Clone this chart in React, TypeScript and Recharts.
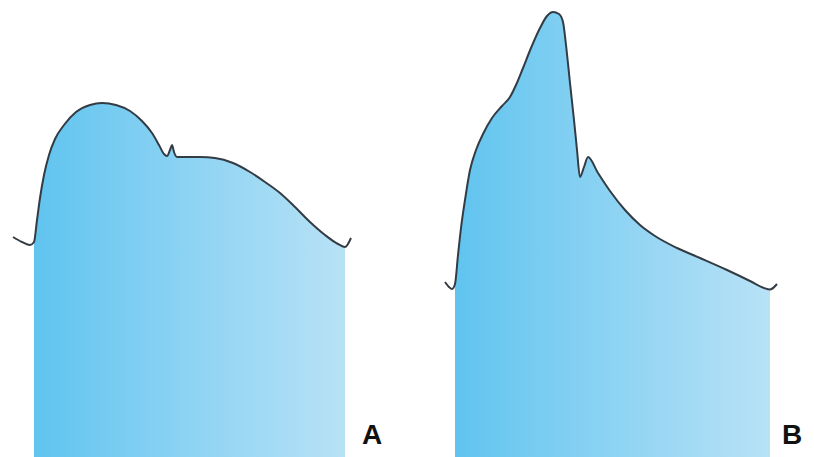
import { Area, ComposedChart, Line, XAxis, YAxis } from 'recharts';

// Waveform A: [time, pressure] (arbitrary units, pressure measured up from the baseline)
const curveA: [number, number][] = [
    [13, 220], [22, 215], [30, 212], [34, 215], [37, 237], [40, 259], [44, 282], [49, 302],
    [55, 318], [64, 332], [76, 345], [90, 352], [102, 354], [116, 352], [130, 346], [142, 336],
    [152, 324], [159, 312], [164, 303], [167, 301], [170, 307], [172, 312], [174, 305], [177, 300],
    [186, 300], [200, 300], [215, 299], [233, 294], [250, 285], [265, 275], [280, 264], [295, 250],
    [310, 235], [325, 222], [338, 213], [345, 210], [351, 219],
];
const fillA: [number, number] = [34, 345];

// Waveform B
const curveB: [number, number][] = [
    [445, 175], [449, 170], [452, 168], [455, 173], [458, 202], [461, 229], [465, 257], [470, 287],
    [476, 307], [483, 323], [492, 339], [502, 351], [510, 360], [516, 372], [523, 389], [531, 409],
    [540, 429], [547, 441], [553, 445], [559, 443], [563, 435], [566, 412], [570, 374], [574, 337],
    [577, 307], [580, 280], [584, 290], [588, 300], [598, 284], [610, 266], [625, 247],
    [640, 232], [655, 221], [677, 209], [700, 199], [727, 187], [750, 176], [764, 169], [770, 167.5],
    [777, 173],
];
const fillB: [number, number] = [455, 770];

const labels = ['A', 'B'];

type Row = { t: number; lineA?: number; areaA?: number; lineB?: number; areaB?: number };

const data: Row[] = [
    ...curveA.map(([t, p]) => ({
        t,
        lineA: p,
        areaA: t >= fillA[0] && t <= fillA[1] ? p : undefined,
    })),
    ...curveB.map(([t, p]) => ({
        t,
        lineB: p,
        areaB: t >= fillB[0] && t <= fillB[1] ? p : undefined,
    })),
];

const STROKE = '#333c44';

export default function App() {
    return (
        <div style={{ position: 'absolute', left: 0, top: 0, width: 814, height: 457, background: '#fff' }}>
            <ComposedChart width={814} height={457} data={data} margin={{ top: 0, right: 0, bottom: 0, left: 0 }}>
                <defs>
                    <linearGradient id="waveFill" x1="0" y1="0" x2="1" y2="0">
                        <stop offset="0%" stopColor="#60c4ef" />
                        <stop offset="50%" stopColor="#8dd3f3" />
                        <stop offset="100%" stopColor="#b8e2f6" />
                    </linearGradient>
                </defs>
                <XAxis type="number" dataKey="t" domain={[0, 814]} hide />
                <YAxis type="number" domain={[0, 457]} hide />
                <Area dataKey="areaA" type="monotone" stroke="none" fill="url(#waveFill)" fillOpacity={1}
                    baseValue={0} isAnimationActive={false} dot={false} activeDot={false} />
                <Area dataKey="areaB" type="monotone" stroke="none" fill="url(#waveFill)" fillOpacity={1}
                    baseValue={0} isAnimationActive={false} dot={false} activeDot={false} />
                <Line dataKey="lineA" type="monotone" stroke={STROKE} strokeWidth={2} dot={false}
                    activeDot={false} isAnimationActive={false} />
                <Line dataKey="lineB" type="monotone" stroke={STROKE} strokeWidth={2} dot={false}
                    activeDot={false} isAnimationActive={false} />
            </ComposedChart>
            {labels.map((l, i) => (
                <span key={l} style={{
                    position: 'absolute', left: i === 0 ? 362 : 782, top: 419,
                    fontFamily: '"Liberation Sans", Arial, sans-serif', fontWeight: 700, fontSize: 28,
                    lineHeight: '32px', color: '#111',
                }}>{l}</span>
            ))}
        </div>
    );
}
